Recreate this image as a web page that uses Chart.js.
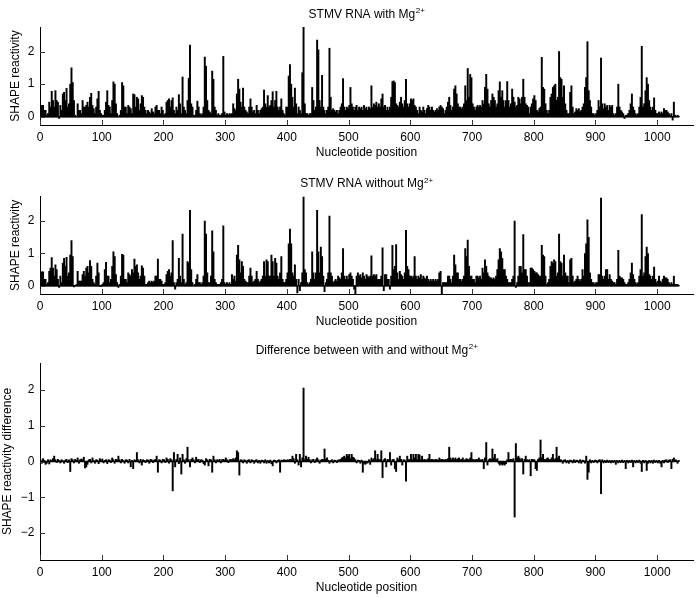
<!DOCTYPE html>
<html>
<head>
<meta charset="utf-8">
<title>STMV RNA SHAPE reactivity</title>
<script src="https://cdn.jsdelivr.net/npm/chart.js@4.4.1/dist/chart.umd.min.js"></script>
<style>
  html, body { margin: 0; padding: 0; background: #fff; }
  body { width: 697px; height: 598px; position: relative; overflow: hidden; }
  canvas { position: absolute; left: 0; }
</style>
</head>
<body>
<canvas id="withChart" width="697" height="165" style="top:0px"></canvas>
<canvas id="withoutChart" width="697" height="169" style="top:165px"></canvas>
<canvas id="diffChart" width="697" height="265" style="top:335px"></canvas>
<script>
// Nucleotide positions (every other nucleotide, 1..1035)
const positions = Array.from({ length: 518 }, (_, i) => 2 * i + 1);
const xTicks = [0, 100, 200, 300, 400, 500, 600, 700, 800, 900, 1000];
const reactTicks = [0, 1, 2];
const diffTicks = [-2, -1, 0, 1, 2];

// SHAPE reactivity with Mg2+
const withMg = [
  .1,.35,.35,.2,.2,.05,.1,.45,.3,.78,.5,.3,.8,.5,.45,-.05,.35,.2,.7,.75,.5,.87,.3,.4,1.0,
  1.5,1.05,.5,.05,0,.4,.2,.2,.1,.5,.3,.3,.35,.45,.3,.6,.72,.35,.25,.1,.3,.55,.78,.2,.1,
  .05,.05,.2,.45,.8,.35,.3,.1,.5,1.07,1.0,.4,.1,0,.05,.2,1.05,.95,.3,.3,.1,.35,.3,.25,.1,
  .7,.68,.3,.6,.55,.2,.4,.65,.6,.3,.2,.1,.2,.15,.1,.25,.15,.1,.3,.35,.2,.2,.1,.3,.2,
  .05,.1,.45,.5,.55,.3,.5,.58,.2,.1,.3,.2,.68,.4,.1,1.22,.3,.2,.1,.5,1.18,2.2,.4,.3,.05,
  .05,.2,.48,.3,.1,.05,.1,.3,1.83,1.55,.5,.2,.15,.1,1.4,1.15,.3,.2,.05,.1,.05,.05,.1,1.85,.15,
  .05,.1,.05,.1,.08,.1,.4,.25,.2,.7,1.15,.85,.45,.3,.88,.3,.2,.15,.1,.3,.55,.3,.15,.2,.1,
  .35,.2,.1,.2,.25,.3,.82,.4,.3,.65,.3,.35,.5,.77,.3,.5,.78,.3,.2,.3,.55,.2,.1,.05,.3,
  .3,1.25,1.6,1.0,.6,.3,.88,.4,.1,.3,.2,.1,1.35,2.75,.4,.1,.1,.05,.1,.1,.9,.5,.2,.3,2.35,
  2.05,.5,.3,1.27,.3,.2,.1,.2,.3,2.1,.6,.2,.25,.2,.15,.2,.1,.2,.3,.4,1.17,.3,.2,.3,.25,
  .35,.9,.4,.3,.2,.3,.35,.2,.3,.25,.3,.2,.35,.25,.3,.2,.3,.25,.95,.3,.4,.35,.45,.3,.4,
  .3,.55,.7,.3,.35,.2,.3,.2,.3,.6,1.08,1.1,1.05,.4,.35,.3,.45,.6,.4,.3,.5,1.15,.4,.3,.4,
  .55,.5,.55,.35,.3,.2,.1,.3,.2,.15,.3,.2,.1,.25,.35,.3,.2,.3,.2,.15,.2,.25,.2,.3,.35,
  .3,.25,.1,.2,.3,.45,.6,.35,.2,.3,.85,.95,.7,.4,.3,.3,.25,.3,.4,.95,.5,1.48,.6,1.3,1.2,
  .4,.3,.2,.3,.35,.3,.35,.3,.5,.4,.9,1.3,.85,.4,.3,.5,.7,.6,.5,.3,.4,.8,1.07,.6,.8,
  .5,.3,.5,1.08,.5,.3,.4,.85,.6,.45,.3,.35,.6,.55,.4,.6,1.15,.6,.4,.35,.3,.1,.3,.4,.55,
  .65,.5,.2,.15,.25,.3,1.82,.9,.85,.4,.2,.1,.2,.6,.7,.9,.95,1.0,.5,.6,2.0,1.2,1.15,.6,.95,
  .4,.2,.1,.1,.75,.95,.3,.1,.15,.25,.2,.25,.15,.2,.3,.4,.9,1.2,2.3,.8,.5,.3,.1,.1,.05,
  .1,.2,.5,.3,1.8,.4,.25,.4,.3,.35,.2,.35,.3,.35,.1,.05,.1,.3,1.0,.3,.2,.15,.1,-.05,.05,
  .05,.1,.2,.4,.7,.3,.2,.1,.05,.1,.3,.6,2.16,.3,.4,.8,1.2,1.0,.5,.3,.2,.3,.58,.2,.1,
  .1,.15,.1,.15,.1,.25,.2,.2,.15,.1,.05,.1,-.1,.45,.05,.02,.05,.02
];

// SHAPE reactivity without Mg2+
const withoutMg = [
  .1,.43,.43,.2,.2,.05,.1,.45,.55,.87,.55,.3,.65,.5,.2,-.05,.3,.1,.7,.85,.6,.88,.3,.4,.95,
  1.4,.9,-.03,.02,.05,.45,.15,.15,.15,.35,.45,.3,.55,.6,.4,.78,.6,.2,.1,.05,.3,.7,.4,-.02,-.02,
  .05,.1,.5,.73,.3,.3,.1,.2,.6,1.05,.9,.35,.1,-.05,.05,.3,.97,.95,.2,.2,.1,.4,.35,.3,.5,
  .4,.83,.6,.65,.4,.2,.3,.62,.55,.3,.05,.05,.1,.15,.1,.15,.1,.15,.3,.3,.83,.2,.2,.15,.05,
  .05,.1,.35,.45,.5,.3,.4,1.4,.1,-.1,.1,.2,.85,.3,.1,1.6,.2,.05,.1,.75,.7,2.33,.5,.1,0,
  .05,.2,.35,.1,.1,.05,.1,.3,2.0,1.6,.4,.1,.1,.3,1.7,1.05,.2,.1,.05,.05,.05,.1,.2,1.85,.1,
  .05,.1,.05,.1,.05,.35,.2,.3,.15,.95,1.25,.8,.4,.75,.6,.2,.15,.1,.1,.3,.55,.3,.1,.15,.2,
  .45,.2,.1,.15,.2,.3,.75,.3,.8,.75,.3,.3,.95,.75,.3,.85,.7,.3,.2,.4,.9,.2,.1,.1,.2,
  .4,1.3,1.75,1.3,.4,.3,.65,.2,-.22,.2,-.15,.1,.4,2.76,.5,.4,.1,.05,.1,.2,1.05,.4,.2,.4,2.33,
  1.05,.4,1.2,.9,.3,-.18,.1,.2,.4,2.15,.4,.3,.1,.15,.2,.15,.3,.25,.2,.4,1.15,.3,.2,.3,.2,
  .35,.4,.3,.2,-.1,-.25,.3,.4,.3,.35,.25,.4,.3,.2,.35,.3,.25,.3,.93,.3,.35,.3,.35,.2,.2,
  .2,.3,1.17,-.15,.35,.35,.2,.2,-.1,.3,1.25,.5,.6,1.27,.4,.2,.45,.35,.3,.2,.4,1.71,.6,.5,.3,
  .3,.25,.3,.9,.3,.2,.3,.25,.35,.2,.3,.25,.2,.3,.2,.15,.2,.15,.2,.15,.2,.15,.2,.4,.45,
  -.25,.1,.1,.1,.1,.3,.3,.2,.1,.3,.95,.65,.4,.4,.2,.2,.15,.2,.3,1.15,.9,1.41,.6,.3,.3,
  .2,.2,.1,.3,.3,.25,.3,.2,.55,.4,.8,.6,.4,.3,.25,.25,.2,.25,.2,.3,.5,.8,1.15,1.05,.85,
  .5,.5,.3,.2,.1,.1,.1,.2,.3,2.0,-.05,.1,.3,.6,.6,.4,1.58,.5,.5,.3,.1,.1,.55,.55,.5,
  .45,.4,.4,.35,.3,.3,1.25,.95,.9,.3,.05,.1,.2,.6,.75,.7,.8,.75,.3,.4,1.6,.75,.7,.3,.95,
  .4,.3,.3,.1,.8,.85,.3,.1,.15,.2,.3,.2,.15,.2,.5,.3,1.0,1.3,2.04,1.5,.4,.2,.1,.1,.05,
  .1,.1,.35,.35,2.71,.3,.2,.3,.5,.5,.2,.35,.2,.15,.1,.1,.05,.2,1.1,.3,.25,.25,.2,.1,.05,
  .05,.1,.2,.4,.7,.35,.2,.1,.05,.1,.3,.5,2.2,.3,.4,.9,1.2,1.0,.35,.3,.2,.3,.58,.2,.1,
  .15,.3,.15,.1,.2,.3,.25,.25,.2,.1,.05,.1,.05,.3,.05,.05,.05,.02
];

// Difference between with and without Mg2+
const diffMg = [
  .05,-.05,.08,.03,-.08,-.05,.05,-.07,.05,.03,.08,.15,.05,-.03,.06,.03,-.04,.05,.02,-.05,.04,.06,-.03,.05,-.28,
  .08,.05,-.04,.06,.03,.1,-.05,.05,.07,.05,.12,-.18,-.15,-.08,.05,.06,-.04,.1,.03,-.05,.05,.04,-.06,.08,.03,
  .07,-.04,.03,.05,-.06,.05,.04,-.03,.1,.05,-.05,.06,.04,.15,.05,-.04,.06,.03,-.05,.05,.04,-.04,.06,-.15,.03,
  -.2,.05,.03,.25,.05,-.04,.06,-.1,.05,.03,-.03,.05,.04,-.05,.06,.05,-.03,.04,.06,.15,-.3,.05,.04,-.04,.06,
  .05,-.03,.1,.06,-.05,.08,.05,-.82,.25,-.15,.06,.2,-.06,.1,-.35,.2,.05,-.05,.08,.4,.05,-.15,.06,.1,.05,
  -.04,.12,.05,.06,-.03,.05,.04,-.06,-.1,.08,.05,-.12,.06,.05,-.3,.15,.05,-.04,.05,.03,.06,-.04,.05,.06,.04,
  .1,.05,-.03,.05,.06,.04,.08,.05,.1,.3,.25,-.38,.05,.04,-.04,.05,.03,-.05,.04,.05,-.04,.05,.03,-.05,.04,
  .05,-.04,.03,-.05,.04,.03,-.04,.05,-.05,.03,-.04,.04,-.06,-.12,.04,.03,-.04,.03,.05,-.3,.04,.03,.05,.04,.03,
  .05,.04,.06,.05,.15,.08,-.05,.2,.05,-.1,.2,-.15,.1,2.05,.05,.15,.06,.12,.05,-.04,.05,.06,-.03,.05,.1,
  .05,-.05,.04,.06,.05,.35,.06,.1,.04,-.05,.03,.05,-.04,.04,.03,-.03,.04,.05,.06,.1,.12,.15,.1,.2,.15,
  .2,.08,.2,.12,.1,.05,-.04,.04,.03,-.05,.04,-.3,-.05,-.08,-.05,-.04,.05,-.08,.1,.05,.08,.3,.05,.2,.06,
  .05,.3,-.45,.05,.08,-.15,.06,.05,.25,-.1,.05,.06,-.2,-.28,.1,.05,.15,.06,-.1,.05,.04,-.55,.15,.05,.06,
  .2,.05,.2,.1,.2,.05,.2,.18,.05,.15,.05,.06,.04,.05,.08,.2,.05,.06,.05,.04,.06,.05,.04,.1,.05,
  .06,.05,.04,.06,.05,.08,.4,.1,.05,.1,.06,.1,.05,.08,.1,.05,.06,.1,.04,.05,.08,.06,.05,.1,.25,
  .06,.05,.04,.06,.05,.1,.05,.04,.06,-.2,.1,.53,-.1,.05,.08,.06,.35,.1,.2,.05,.08,-.05,-.1,-.06,-.1,
  -.08,-.1,-.06,.05,.25,.05,.06,.05,.08,-1.55,.5,.1,.15,.1,.05,.08,-.35,.06,.15,.05,.04,.05,-.4,.06,.05,
  .05,-.2,-.25,.06,.1,.6,.1,.2,.06,.05,.08,.1,.05,.06,.1,.2,.05,.08,.4,.1,.15,.05,.04,-.05,.04,
  .05,-.04,.03,-.05,.04,.03,-.04,.05,-.03,.04,.03,-.04,.05,-.05,.04,.03,-.05,.15,-.5,-.3,.05,-.04,.03,-.03,.04,
  .03,-.04,.04,.05,-.9,.05,-.04,.03,-.03,.04,-.03,.03,-.04,.03,-.03,.03,-.08,.03,-.04,.03,-.03,.04,-.03,.03,-.2,
  .03,-.04,.03,-.03,.04,-.15,.03,-.04,.03,-.03,.04,-.05,-.28,.03,-.04,.03,-.25,-.05,.03,-.04,.03,-.05,.04,-.03,.03,
  -.04,.03,-.05,-.15,.03,-.04,.04,.05,-.03,.04,.05,-.2,.06,.1,.05,.04,-.05,.03
];

const FONT = '"Liberation Sans", Arial, Helvetica, sans-serif';
Chart.defaults.font.family = FONT;
Chart.defaults.font.size = 12;
Chart.defaults.color = '#000';

// Title with a superscript part, centred over the plot area
const supTitle = {
  id: 'supTitle',
  afterDraw(chart, args, opts) {
    const { ctx, chartArea } = chart;
    ctx.save();
    ctx.fillStyle = '#000';
    ctx.textBaseline = 'alphabetic';
    ctx.textAlign = 'left';
    ctx.font = '12px ' + FONT;
    const w1 = ctx.measureText(opts.text).width;
    ctx.font = '8px ' + FONT;
    const w2 = ctx.measureText(opts.sup).width;
    const x0 = (chartArea.left + chartArea.right) / 2 - (w1 + w2) / 2;
    const y = chartArea.top - opts.gap;
    ctx.font = '12px ' + FONT;
    ctx.fillText(opts.text, x0, y);
    ctx.font = '8px ' + FONT;
    ctx.fillText(opts.sup, x0 + w1 + 0.5, y - 4.5);
    ctx.restore();
  }
};

// Short tick marks pointing into the plot, as in MATLAB axes
const innerTicks = {
  id: 'innerTicks',
  afterDraw(chart, args, opts) {
    const { ctx, chartArea, scales } = chart;
    ctx.save();
    ctx.strokeStyle = '#333';
    ctx.lineWidth = 1;
    ctx.beginPath();
    xTicks.forEach(v => {
      const px = Math.round(scales.x.getPixelForValue(v)) + 0.5;
      ctx.moveTo(px, chartArea.bottom);
      ctx.lineTo(px, chartArea.bottom - 5);
    });
    opts.yTicks.forEach(v => {
      const py = Math.round(scales.y.getPixelForValue(v)) + 0.5;
      ctx.moveTo(chartArea.left, py);
      ctx.lineTo(chartArea.left + 5, py);
    });
    ctx.stroke();
    ctx.restore();
  }
};

function makePanel(id, values, cfg) {
  return new Chart(document.getElementById(id), {
    type: 'bar',
    data: {
      datasets: [{
        data: positions.map((p, i) => ({ x: p, y: values[i] })),
        backgroundColor: '#000',
        borderWidth: 0,
        barThickness: 1.3,
        categoryPercentage: 1,
        barPercentage: 1
      }, {
        // zero line left by the bar edges
        type: 'line',
        data: positions.map(p => ({ x: p, y: 0 })),
        borderColor: '#000',
        borderWidth: 1.3,
        pointRadius: 0
      }]
    },
    options: {
      responsive: false,
      animation: false,
      devicePixelRatio: 1,
      layout: { padding: { top: cfg.top, right: 4, left: 0, bottom: 0 } },
      plugins: {
        legend: { display: false },
        tooltip: { enabled: false },
        supTitle: { text: cfg.title, sup: '2+', gap: 9.5 },
        innerTicks: { yTicks: cfg.ticks }
      },
      scales: {
        x: {
          type: 'linear',
          min: 0,
          max: 1058,
          offset: false,
          afterBuildTicks: axis => { axis.ticks = xTicks.map(v => ({ value: v })); },
          afterFit: scale => { scale.height = 40; },
          grid: { display: false, drawTicks: false, offset: false },
          border: { display: true, color: '#000', width: 1 },
          ticks: { padding: 5.4, color: '#000', font: { size: 12 }, maxRotation: 0, callback: v => String(v) },
          title: { display: true, text: 'Nucleotide position', color: '#000', font: { size: 12 }, padding: { top: 0, bottom: 5.5 } }
        },
        y: {
          type: 'linear',
          min: cfg.min,
          max: cfg.max,
          afterBuildTicks: axis => { axis.ticks = cfg.ticks.map(v => ({ value: v })); },
          afterFit: scale => { scale.width = 40; },
          grid: { display: false, drawTicks: false },
          border: { display: true, color: '#000', width: 1 },
          ticks: { padding: 5.5, color: '#000', font: { size: 12 }, callback: v => String(v).replace('-', '\u2212') },
          title: { display: true, text: cfg.yTitle, color: '#000', font: { size: 12 }, padding: { top: cfg.yTitlePad, bottom: 0 } }
        }
      }
    },
    plugins: [supTitle, innerTicks]
  });
}

makePanel('withChart', withMg, {
  title: 'STMV RNA with Mg', top: 27, min: -0.25, max: 2.75, ticks: reactTicks,
  yTitle: 'SHAPE reactivity', yTitlePad: 8.8
});
makePanel('withoutChart', withoutMg, {
  title: 'STMV RNA without Mg', top: 31.7, min: -0.25, max: 2.75, ticks: reactTicks,
  yTitle: 'SHAPE reactivity', yTitlePad: 8.8
});
makePanel('diffChart', diffMg, {
  title: 'Difference between with and without Mg', top: 28, min: -2.75, max: 2.75, ticks: diffTicks,
  yTitle: 'SHAPE reactivity difference', yTitlePad: 0.5
});
</script>
</body>
</html>
